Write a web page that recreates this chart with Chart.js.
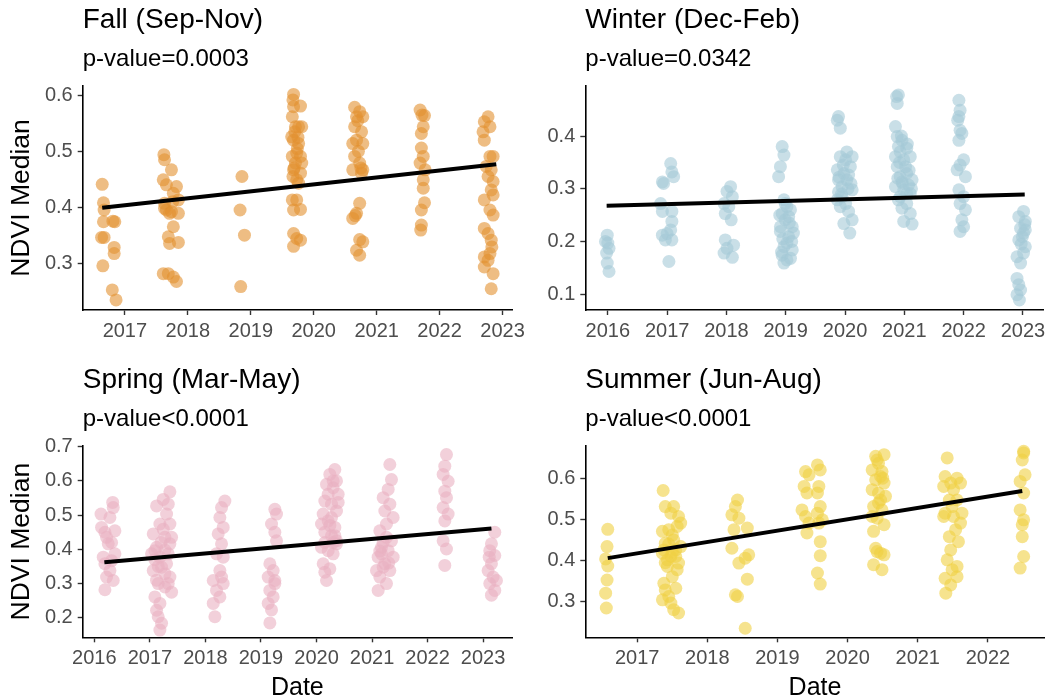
<!DOCTYPE html>
<html>
<head>
<meta charset="utf-8">
<title>NDVI Median by season</title>
<script src="https://cdn.jsdelivr.net/npm/chart.js@4.4.1/dist/chart.umd.min.js"></script>
<style>
  html, body { margin: 0; padding: 0; background: #fff; overflow: hidden; }
  body { width: 1057px; height: 700px; position: relative; }
  canvas { position: absolute; }
</style>
</head>
<body>
<canvas id="fallChart" width="540" height="345" style="left:0;top:0"></canvas>
<canvas id="winterChart" width="530" height="345" style="left:527px;top:0"></canvas>
<canvas id="springChart" width="540" height="345" style="left:0;top:360px"></canvas>
<canvas id="summerChart" width="530" height="345" style="left:527px;top:360px"></canvas>
<script>
// ===== NDVI median per acquisition, by season =====

// ---- Fall (Sep-Nov) ----
const fallDate = [
  2016.64, 2016.66, 2016.67, 2016.66, 2016.63, 2016.67, 2016.65, 2016.84, 2016.81, 2016.83, 2016.83, 2016.80, 2016.86,
  2017.62, 2017.63, 2017.61, 2017.66, 2017.74, 2017.82, 2017.77, 2017.85, 2017.63, 2017.66, 2017.71, 2017.85,
  2017.77, 2017.69, 2017.71, 2017.85, 2017.61, 2017.69, 2017.77, 2017.82, 2017.63, 2017.74, 2017.76,
  2018.86, 2018.83, 2018.90, 2018.84,
  2019.68, 2019.67, 2019.68, 2019.79, 2019.66, 2019.71, 2019.76, 2019.81, 2019.65, 2019.68, 2019.76, 2019.73,
  2019.66, 2019.79, 2019.71, 2019.81, 2019.68, 2019.79, 2019.73, 2019.76, 2019.66, 2019.73, 2019.68, 2019.79,
  2019.68, 2019.73, 2019.79, 2019.68, 2019.70, 2019.74, 2019.69, 2019.75, 2019.67,
  2020.65, 2020.73, 2020.68, 2020.78, 2020.65, 2020.76, 2020.68, 2020.78, 2020.62, 2020.71, 2020.65, 2020.73,
  2020.78, 2020.62, 2020.76, 2020.73, 2020.68, 2020.62, 2020.73, 2020.68, 2020.73, 2020.78, 2020.70, 2020.75, 2020.66,
  2021.69, 2021.76, 2021.74, 2021.71, 2021.71, 2021.74, 2021.69, 2021.77, 2021.74, 2021.74, 2021.76, 2021.71,
  2021.71, 2021.70, 2021.72,
  2022.77, 2022.71, 2022.80, 2022.69, 2022.71, 2022.80, 2022.85, 2022.74, 2022.82, 2022.77, 2022.85, 2022.82,
  2022.85, 2022.71, 2022.80, 2022.85, 2022.71, 2022.77, 2022.82, 2022.83, 2022.80, 2022.71, 2022.77, 2022.71,
  2022.85, 2022.82
];
const fallNdvi = [
  0.441, 0.408, 0.395, 0.374, 0.346, 0.346, 0.295, 0.374, 0.375, 0.328, 0.317, 0.252, 0.234,
  0.494, 0.485, 0.449, 0.440, 0.467, 0.437, 0.425, 0.413, 0.407, 0.395, 0.389, 0.389,
  0.365, 0.347, 0.335, 0.337, 0.281, 0.281, 0.275, 0.267, 0.398, 0.392, 0.410,
  0.455, 0.395, 0.350, 0.258,
  0.602, 0.592, 0.580, 0.581, 0.562, 0.544, 0.544, 0.544, 0.526, 0.520, 0.514, 0.497,
  0.491, 0.491, 0.479, 0.479, 0.467, 0.461, 0.449, 0.443, 0.413, 0.413, 0.395, 0.396,
  0.353, 0.344, 0.341, 0.330, 0.535, 0.505, 0.470, 0.525, 0.455,
  0.579, 0.571, 0.562, 0.562, 0.544, 0.535, 0.520, 0.514, 0.514, 0.500, 0.491, 0.479,
  0.467, 0.467, 0.461, 0.407, 0.389, 0.380, 0.342, 0.323, 0.314, 0.338, 0.555, 0.470, 0.385,
  0.574, 0.564, 0.544, 0.532, 0.506, 0.491, 0.479, 0.467, 0.449, 0.434, 0.408, 0.395,
  0.368, 0.359, 0.565,
  0.562, 0.553, 0.544, 0.535, 0.520, 0.491, 0.491, 0.473, 0.467, 0.455, 0.446, 0.431,
  0.422, 0.413, 0.395, 0.386, 0.362, 0.353, 0.341, 0.329, 0.317, 0.311, 0.305, 0.293,
  0.281, 0.254
];
const fallTrendDate = [2016.64, 2022.90];
const fallTrendNdvi = [0.399, 0.477];
const fallYears = [2017, 2018, 2019, 2020, 2021, 2022, 2023];
const fallTicks = [0.3, 0.4, 0.5, 0.6];

// ---- Winter (Dec-Feb) ----
const winterDate = [
  2015.99, 2015.96, 2016.02, 2015.98, 2015.99, 2016.02, 2016.00,
  2016.92, 2016.94, 2017.06, 2017.08, 2017.11, 2016.89, 2016.92, 2017.08, 2017.08, 2017.06, 2016.92, 2016.97,
  2017.08, 2017.03, 2017.00,
  2018.07, 2018.01, 2018.10, 2017.96, 2018.04, 2017.98, 2018.08, 2017.98, 2018.12, 2018.01, 2017.96, 2018.10,
  2018.94, 2018.97, 2018.91, 2018.88, 2018.97, 2019.02, 2019.08, 2018.94, 2018.99, 2019.11, 2018.91, 2019.05,
  2018.97, 2019.11, 2018.94, 2019.02, 2018.97, 2019.08, 2018.91, 2019.05, 2018.99, 2019.13, 2019.02,
  2018.90, 2019.06, 2018.95, 2019.10, 2018.93,
  2019.89, 2019.92, 2019.87, 2019.92, 2020.03, 2020.12, 2019.87, 2019.98, 2020.09, 2019.89, 2020.03, 2019.95,
  2020.12, 2019.87, 2020.01, 2019.92, 2020.06, 2020.12, 2019.98, 2020.08, 2019.95, 2020.01, 2019.89, 2020.06,
  2019.97, 2020.05, 2019.90, 2020.10, 2019.94,
  2020.90, 2020.88, 2020.85, 2020.88, 2020.96, 2020.90, 2021.04, 2020.85, 2020.99, 2021.10, 2020.88, 2021.04,
  2020.93, 2021.13, 2020.85, 2020.99, 2021.10, 2020.90, 2021.04, 2020.96, 2021.10, 2020.99, 2021.13, 2020.93,
  2021.07, 2020.93, 2021.02, 2020.96, 2020.87, 2021.04, 2020.95, 2021.05, 2020.92, 2021.08, 2020.97, 2021.12,
  2020.89,
  2021.92, 2021.94, 2021.90, 2021.94, 2021.92, 2021.89, 2022.00, 2021.94, 2022.03, 2021.92, 2022.00, 2021.94,
  2022.03, 2021.97, 2022.00, 2021.94, 2021.97, 2021.92,
  2023.01, 2022.93, 2023.04, 2022.96, 2023.01, 2022.93, 2023.04, 2022.90, 2022.96, 2022.90, 2022.93, 2022.96,
  2022.90, 2022.94, 2023.01, 2022.99, 2023.04, 2022.97, 2023.03
];
const winterNdvi = [
  0.212, 0.200, 0.187, 0.178, 0.159, 0.143, 0.197,
  0.313, 0.310, 0.348, 0.332, 0.323, 0.272, 0.257, 0.257, 0.238, 0.222, 0.212, 0.203,
  0.203, 0.162, 0.215,
  0.304, 0.295, 0.285, 0.272, 0.266, 0.253, 0.241, 0.203, 0.193, 0.187, 0.178, 0.170,
  0.380, 0.364, 0.342, 0.323, 0.279, 0.266, 0.260, 0.253, 0.241, 0.228, 0.219, 0.209,
  0.190, 0.184, 0.174, 0.165, 0.159, 0.168, 0.228, 0.247, 0.272, 0.216, 0.197,
  0.250, 0.235, 0.205, 0.200, 0.180,
  0.437, 0.415, 0.430, 0.361, 0.370, 0.361, 0.336, 0.329, 0.342, 0.317, 0.317, 0.304,
  0.298, 0.279, 0.272, 0.266, 0.257, 0.241, 0.234, 0.216, 0.285, 0.355, 0.294, 0.326,
  0.345, 0.300, 0.322, 0.310, 0.290,
  0.478, 0.462, 0.418, 0.399, 0.392, 0.380, 0.377, 0.361, 0.355, 0.361, 0.342, 0.329,
  0.323, 0.317, 0.304, 0.298, 0.291, 0.279, 0.272, 0.263, 0.253, 0.238, 0.233, 0.285,
  0.307, 0.370, 0.342, 0.313, 0.475, 0.291, 0.400, 0.385, 0.350, 0.335, 0.310, 0.300,
  0.320,
  0.468, 0.449, 0.430, 0.411, 0.392, 0.336, 0.355, 0.345, 0.323, 0.298, 0.285, 0.272,
  0.260, 0.241, 0.228, 0.219, 0.405, 0.437,
  0.257, 0.247, 0.238, 0.225, 0.216, 0.203, 0.190, 0.171, 0.159, 0.130, 0.118, 0.108,
  0.099, 0.089, 0.178, 0.209, 0.222, 0.195, 0.232
];
const winterTrendDate = [2015.98, 2023.03];
const winterTrendNdvi = [0.268, 0.289];
const winterYears = [2016, 2017, 2018, 2019, 2020, 2021, 2022, 2023];
const winterTicks = [0.1, 0.2, 0.3, 0.4];

// ---- Spring (Mar-May) ----
const springDate = [
  2016.12, 2016.13, 2016.19, 2016.22, 2016.28, 2016.33, 2016.34, 2016.25, 2016.31, 2016.37, 2016.16, 2016.19,
  2016.28, 2016.22, 2016.34, 2016.19, 2016.37, 2016.31,
  2017.36, 2017.24, 2017.12, 2017.30, 2017.18, 2017.36, 2017.06, 2017.27, 2017.12, 2017.36, 2017.18, 2017.30,
  2017.06, 2017.36, 2017.15, 2017.27, 2017.39, 2017.09, 2017.18, 2017.12, 2017.15, 2017.21, 2017.18, 2017.27,
  2017.09, 2017.33, 2017.03, 2017.24, 2017.12, 2017.33, 2017.21, 2017.39, 2017.20, 2017.33, 2017.09, 2017.27,
  2017.15,
  2018.35, 2018.29, 2018.26, 2018.32, 2018.23, 2018.29, 2018.20, 2018.32, 2018.26, 2018.14, 2018.32, 2018.20,
  2018.26, 2018.14, 2018.17, 2018.29,
  2019.25, 2019.28, 2019.19, 2019.25, 2019.28, 2019.16, 2019.22, 2019.13, 2019.25, 2019.16, 2019.22, 2019.13,
  2019.19, 2019.16, 2019.25,
  2020.33, 2020.24, 2020.36, 2020.18, 2020.30, 2020.39, 2020.15, 2020.27, 2020.36, 2020.12, 2020.21, 2020.33,
  2020.15, 2020.27, 2020.36, 2020.09, 2020.21, 2020.30, 2020.12, 2020.24, 2020.15, 2020.18, 2020.36, 2020.21,
  2020.27, 2020.09, 2020.30, 2020.39, 2020.24, 2020.33, 2020.15, 2020.30,
  2021.32, 2021.35, 2021.29, 2021.20, 2021.32, 2021.23, 2021.38, 2021.14, 2021.26, 2021.35, 2021.17, 2021.29,
  2021.11, 2021.23, 2021.32, 2021.14, 2021.26, 2021.11, 2021.38, 2021.20, 2021.17, 2021.26, 2021.08, 2021.20,
  2021.30, 2021.14,
  2022.34, 2022.31, 2022.28, 2022.37, 2022.31, 2022.34, 2022.28, 2022.37, 2022.31, 2022.28, 2022.34, 2022.31,
  2023.21, 2023.15, 2023.12, 2023.21, 2023.15, 2023.09, 2023.18, 2023.12, 2023.21, 2023.15, 2023.24, 2023.11
];
const springNdvi = [
  0.503, 0.464, 0.450, 0.435, 0.493, 0.537, 0.522, 0.416, 0.420, 0.454, 0.377, 0.358,
  0.338, 0.319, 0.309, 0.282, 0.387, 0.367,
  0.568, 0.546, 0.527, 0.503, 0.474, 0.474, 0.445, 0.435, 0.406, 0.416, 0.377, 0.358,
  0.338, 0.319, 0.300, 0.290, 0.275, 0.261, 0.242, 0.222, 0.203, 0.184, 0.164, 0.329,
  0.396, 0.387, 0.387, 0.459, 0.310, 0.532, 0.348, 0.435, 0.420, 0.300, 0.370, 0.398,
  0.350,
  0.541, 0.522, 0.493, 0.464, 0.445, 0.416, 0.387, 0.377, 0.338, 0.309, 0.300, 0.280,
  0.261, 0.242, 0.203, 0.319,
  0.517, 0.503, 0.474, 0.450, 0.425, 0.358, 0.338, 0.319, 0.300, 0.280, 0.261, 0.242,
  0.223, 0.185, 0.309,
  0.633, 0.619, 0.600, 0.590, 0.580, 0.561, 0.541, 0.532, 0.512, 0.503, 0.483, 0.464,
  0.450, 0.440, 0.425, 0.406, 0.396, 0.387, 0.358, 0.343, 0.333, 0.309, 0.416, 0.561,
  0.493, 0.474, 0.420, 0.537, 0.470, 0.440, 0.420, 0.600,
  0.648, 0.604, 0.575, 0.551, 0.532, 0.512, 0.493, 0.454, 0.435, 0.425, 0.406, 0.396,
  0.377, 0.358, 0.338, 0.319, 0.300, 0.280, 0.377, 0.348, 0.387, 0.474, 0.338, 0.420,
  0.360, 0.395,
  0.677, 0.643, 0.619, 0.599, 0.570, 0.551, 0.522, 0.503, 0.483, 0.425, 0.401, 0.353,
  0.450, 0.416, 0.396, 0.382, 0.358, 0.338, 0.319, 0.300, 0.280, 0.266, 0.309, 0.377
];
const springTrendDate = [2016.18, 2023.15];
const springTrendNdvi = [0.362, 0.461];
const springYears = [2016, 2017, 2018, 2019, 2020, 2021, 2022, 2023];
const springTicks = [0.2, 0.3, 0.4, 0.5, 0.6, 0.7];

// ---- Summer (Jun-Aug) ----
const summerDate = [
  2016.58, 2016.57, 2016.55, 2016.58, 2016.57, 2016.55, 2016.56,
  2017.37, 2017.40, 2017.52, 2017.48, 2017.59, 2017.36, 2017.45, 2017.57, 2017.40, 2017.52, 2017.62, 2017.36,
  2017.48, 2017.59, 2017.43, 2017.55, 2017.38, 2017.50, 2017.40, 2017.55, 2017.36, 2017.48, 2017.52, 2017.59,
  2017.43, 2017.38, 2017.50, 2017.57, 2017.45, 2017.62, 2017.45, 2017.55, 2017.40, 2017.50,
  2018.43, 2018.40, 2018.35, 2018.45, 2018.38, 2018.57, 2018.35, 2018.45, 2018.59, 2018.54, 2018.57, 2018.40,
  2018.43, 2018.54,
  2019.40, 2019.45, 2019.38, 2019.42, 2019.35, 2019.40, 2019.45, 2019.42, 2019.57, 2019.61, 2019.59, 2019.57,
  2019.61, 2019.57, 2019.64, 2019.59, 2019.61, 2019.61, 2019.57, 2019.61,
  2020.40, 2020.52, 2020.44, 2020.35, 2020.49, 2020.40, 2020.52, 2020.35, 2020.44, 2020.54, 2020.37, 2020.49,
  2020.42, 2020.52, 2020.37, 2020.40, 2020.42, 2020.52, 2020.37, 2020.49, 2020.47, 2020.42, 2020.47, 2020.35,
  2020.47, 2020.44, 2020.50,
  2021.42, 2021.39, 2021.47, 2021.56, 2021.37, 2021.51, 2021.61, 2021.45, 2021.56, 2021.39, 2021.51, 2021.61,
  2021.45, 2021.58, 2021.47, 2021.42, 2021.56, 2021.49, 2021.39, 2021.56, 2021.47, 2021.40, 2021.54, 2021.63,
  2021.49, 2021.37,
  2022.51, 2022.49, 2022.53, 2022.46, 2022.51, 2022.46, 2022.51, 2022.49, 2022.51, 2022.46, 2022.51, 2022.49
];
const summerNdvi = [
  0.476, 0.434, 0.404, 0.387, 0.353, 0.321, 0.285,
  0.570, 0.531, 0.531, 0.515, 0.507, 0.471, 0.475, 0.483, 0.442, 0.450, 0.434, 0.418,
  0.410, 0.394, 0.386, 0.426, 0.345, 0.361, 0.329, 0.333, 0.305, 0.297, 0.281, 0.273,
  0.402, 0.426, 0.462, 0.378, 0.313, 0.491, 0.440, 0.410, 0.395, 0.420,
  0.547, 0.531, 0.511, 0.503, 0.475, 0.479, 0.430, 0.394, 0.414, 0.406, 0.355, 0.317,
  0.313, 0.236,
  0.616, 0.608, 0.580, 0.564, 0.523, 0.507, 0.491, 0.467, 0.632, 0.620, 0.580, 0.564,
  0.531, 0.515, 0.499, 0.491, 0.446, 0.412, 0.370, 0.343,
  0.653, 0.657, 0.636, 0.620, 0.616, 0.596, 0.588, 0.572, 0.564, 0.556, 0.531, 0.523,
  0.503, 0.487, 0.471, 0.430, 0.422, 0.414, 0.390, 0.378, 0.418, 0.644, 0.547, 0.507,
  0.604, 0.540, 0.600,
  0.649, 0.604, 0.588, 0.600, 0.580, 0.572, 0.588, 0.547, 0.547, 0.515, 0.507, 0.491,
  0.458, 0.446, 0.426, 0.402, 0.386, 0.378, 0.357, 0.361, 0.341, 0.321, 0.475, 0.515,
  0.531, 0.507,
  0.665, 0.644, 0.608, 0.592, 0.564, 0.523, 0.499, 0.458, 0.410, 0.382, 0.661, 0.487
];
const summerTrendDate = [2016.58, 2022.49];
const summerTrendNdvi = [0.406, 0.569];
const summerYears = [2017, 2018, 2019, 2020, 2021, 2022];
const summerTicks = [0.3, 0.4, 0.5, 0.6];

// ---- Shared look ----
Chart.defaults.font.family = '"Liberation Sans", Arial, Helvetica, sans-serif';

const axisGrid   = { drawOnChartArea: false, drawTicks: true, tickLength: 5, color: '#333333', tickWidth: 1.4 };
const axisBorder = { display: true, color: '#000000', width: 1.6 };
const tickFont   = { size: 20 };

function toPoints(xs, ys) {
    return xs.map((x, i) => ({ x: x, y: ys[i] }));
}

function drawPanel(id, p) {
    const ctx = document.getElementById(id);
    if (!ctx) return;

    new Chart(ctx, {
        type: 'scatter',
        data: {
            datasets: [{
                data: toPoints(p.trendX, p.trendY),
                showLine: true,
                borderColor: '#000000',
                borderWidth: 4,
                pointRadius: 0,
                order: 0,
                clip: false,
            }, {
                data: toPoints(p.x, p.y),
                backgroundColor: p.color,
                borderWidth: 0,
                pointRadius: 6.5,
                pointHoverRadius: 6.5,
                order: 1,
                clip: false,
            }]
        },
        options: {
            responsive: false,
            animation: false,
            events: [],
            layout: { padding: { left: 0, right: p.padRight, top: 0, bottom: 0 } },
            plugins: {
                legend: { display: false },
                tooltip: { enabled: false },
                title: {
                    display: true, text: p.title, align: 'start', fullSize: false,
                    color: '#000000', font: { size: 28, weight: 'normal' },
                    padding: { top: 3.5, bottom: 0 }
                },
                subtitle: {
                    display: true, text: p.subtitle, align: 'start', fullSize: false,
                    color: '#000000', font: { size: 24, weight: 'normal' },
                    padding: { top: 7.5, bottom: 12.6 }
                }
            },
            scales: {
                x: {
                    type: 'linear',
                    min: p.xMin, max: p.xMax,
                    afterBuildTicks: s => { s.ticks = p.xTicks.map(v => ({ value: v })); },
                    afterFit: s => { s.height = p.xAxisHeight; },
                    ticks: {
                        autoSkip: false, maxRotation: 0, padding: 4.5,
                        color: '#4d4d4d', font: tickFont,
                        callback: v => String(v)
                    },
                    grid: axisGrid,
                    border: axisBorder,
                    title: {
                        display: p.showXTitle, text: 'Date', color: '#000000',
                        font: { size: 25 }, padding: { top: 0, bottom: 2 }
                    }
                },
                y: {
                    type: 'linear',
                    min: p.yMin, max: p.yMax,
                    afterBuildTicks: s => { s.ticks = p.yTicks.map(v => ({ value: v })); },
                    afterFit: s => { s.width = p.yAxisWidth; },
                    ticks: {
                        padding: 5, color: '#4d4d4d', font: tickFont,
                        callback: v => v.toFixed(1)
                    },
                    grid: axisGrid,
                    border: axisBorder,
                    title: {
                        display: p.showYTitle, text: 'NDVI Median', color: '#000000',
                        font: { size: 26.5 }, padding: { top: 6, bottom: 0 }
                    }
                }
            }
        }
    });
}

// ---- Init ----
drawPanel('fallChart', {
    title: 'Fall (Sep-Nov)', subtitle: 'p-value=0.0003',
    x: fallDate, y: fallNdvi, trendX: fallTrendDate, trendY: fallTrendNdvi,
    xTicks: fallYears, yTicks: fallTicks, color: 'rgba(226,145,48,0.6)',
    xMin: 2016.33, xMax: 2023.15, yMin: 0.216, yMax: 0.617,
    yAxisWidth: 82.7, xAxisHeight: 35, padRight: 28,
    showXTitle: false, showYTitle: true
});

drawPanel('winterChart', {
    title: 'Winter (Dec-Feb)', subtitle: 'p-value=0.0342',
    x: winterDate, y: winterNdvi, trendX: winterTrendDate, trendY: winterTrendNdvi,
    xTicks: winterYears, yTicks: winterTicks, color: 'rgba(165,202,215,0.6)',
    xMin: 2015.62, xMax: 2023.35, yMin: 0.070, yMax: 0.495,
    yAxisWidth: 58.3, xAxisHeight: 35, padRight: 13.3,
    showXTitle: false, showYTitle: false
});

drawPanel('springChart', {
    title: 'Spring (Mar-May)', subtitle: 'p-value<0.0001',
    x: springDate, y: springNdvi, trendX: springTrendDate, trendY: springTrendNdvi,
    xTicks: springYears, yTicks: springTicks, color: 'rgba(234,176,194,0.6)',
    xMin: 2015.79, xMax: 2023.52, yMin: 0.143, yMax: 0.702,
    yAxisWidth: 82.7, xAxisHeight: 67.7, padRight: 28,
    showXTitle: true, showYTitle: true
});

drawPanel('summerChart', {
    title: 'Summer (Jun-Aug)', subtitle: 'p-value<0.0001',
    x: summerDate, y: summerNdvi, trendX: summerTrendDate, trendY: summerTrendNdvi,
    xTicks: summerYears, yTicks: summerTicks, color: 'rgba(240,208,66,0.6)',
    xMin: 2016.26, xMax: 2022.81, yMin: 0.214, yMax: 0.678,
    yAxisWidth: 58.3, xAxisHeight: 67.7, padRight: 12.3,
    showXTitle: true, showYTitle: false
});
</script>
</body>
</html>
